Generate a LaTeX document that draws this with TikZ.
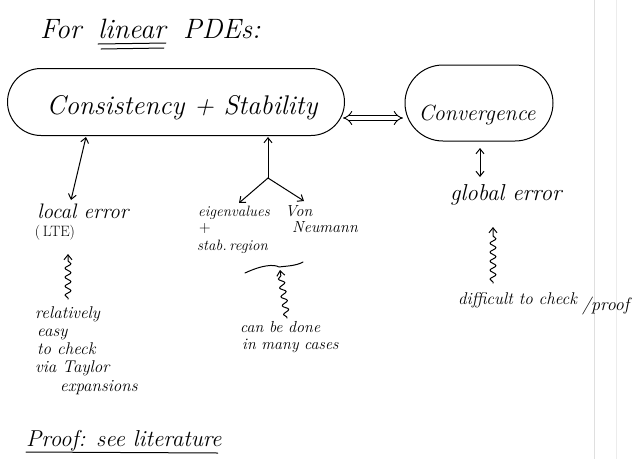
\documentclass[tikz,border=0pt]{standalone}
\usetikzlibrary{arrows.meta,decorations.pathmorphing,shapes.misc}
\begin{document}
\begin{tikzpicture}[x=1pt,y=-1pt,
  ink/.style={line width=1pt, black, line cap=round, line join=round},
  hand/.style={inner sep=0pt, text=black, font=\itshape\fontsize{#1}{#1}\selectfont},
  hand/.default=16,
  blob/.style={ink, draw, rounded rectangle, inner sep=0pt},
  tip/.style={ink, -{Straight Barb[length=5pt,width=8pt]}},
  twotip/.style={ink, {Straight Barb[length=5pt,width=8pt]}-{Straight Barb[length=5pt,width=8pt]}},
  wavy/.style={ink, -{Straight Barb[length=5pt,width=8pt]}, decorate,
    decoration={snake, amplitude=3pt, segment length=9pt, post length=5pt, pre length=1pt}}
]
\useasboundingbox (0,0) rectangle (633,459);
\fill[white] (0,0) rectangle (633,459);
% scan edges
\draw[gray!25, line width=1pt] (594,0) -- (594,459);
\draw[gray!15, line width=1pt] (616,0) -- (616,459);

% title
\node[hand=28, anchor=base west] (for) at (40,38) {For};
\node[hand=28, anchor=base west] (linear) at (98,38) {linear};
\node[hand=28, anchor=base west] (pdes) at (183,38) {PDEs:};
\draw[ink] ([yshift=-6pt]linear.base west) -- ([yshift=-5pt]linear.base east);
\draw[ink] ([xshift=3pt,yshift=-11pt]linear.base west) -- ([xshift=-2pt,yshift=-10pt]linear.base east);

% main blobs
\node[blob, minimum width=337pt, minimum height=67pt] (cs) at (176,102) {};
\node[hand=27] (cstext) at (182,108) {Consistency + Stability};
\node[blob, minimum width=148pt, minimum height=76pt] (conv) at (479,103) {};
\node[hand=22] (convtext) at (477,115) {Convergence};

% equivalence arrow
\coordinate (eqL) at (343,118);
\coordinate (eqR) at (403,118);
\draw[line width=0.9pt, double, double distance=4pt, {Implies}-{Implies}] (eqL) -- (eqR);

% left branch
\node[hand=21] (local) at (83,211) {local error};
\node[inner sep=0pt, font=\fontsize{15}{15}\selectfont] (lte) at (55,233) {(\,LTE)};
\coordinate (csA) at (86,137);
\coordinate (localA) at (71,200);
\draw[twotip] (csA) -- (localA);
\coordinate (w1s) at (68,299);
\coordinate (w1e) at (68,254);
\draw[wavy] (w1s) -- (w1e);
\node[hand=17, anchor=base west] (r1) at (35,318) {relatively};
\node[hand=17, anchor=base west] (r2) at (37,336) {easy};
\node[hand=17, anchor=base west] (r3) at (37,354) {to check};
\node[hand=17, anchor=base west] (r4) at (35,372) {via Taylor};
\node[hand=17, anchor=base west] (r5) at (60,391) {expansions};

% middle branch
\coordinate (csB) at (268,137);
\coordinate (br) at (268,178);
\coordinate (eigA) at (239,203);
\coordinate (vnA) at (304,201);
\draw[tip] (br) -- (csB);
\draw[tip] (br) -- (eigA);
\draw[tip] (br) -- (vnA);
\node[hand=15, anchor=base west] (eig) at (198,216) {eigenvalues};
\node[inner sep=0pt, font=\fontsize{16}{16}\selectfont] (plus) at (205,229) {+};
\node[hand=15, anchor=base west] (stab) at (197,250) {stab.\,region};
\node[hand=16, anchor=base west] (von) at (285,216) {Von};
\node[hand=16, anchor=base west] (neu) at (292,232) {Neumann};
\coordinate (brL) at (245,273);
\coordinate (brM) at (279,267);
\coordinate (brR) at (303,262);
\draw[ink] (brL) .. controls (262,265) and (274,264) .. (brM) .. controls (286,266) and (296,266) .. (brR);
\coordinate (w2s) at (287,318);
\coordinate (w2e) at (280,270);
\draw[wavy] (w2s) -- (w2e);
\node[hand=16, anchor=base west] (can1) at (240,332) {can be done};
\node[hand=16, anchor=base west] (can2) at (242,349) {in many cases};

% right branch
\coordinate (convA) at (480,148);
\coordinate (globA) at (480,177);
\draw[twotip] (convA) -- (globA);
\node[hand=23, anchor=base west] (glob) at (450,200) {global error};
\coordinate (w3s) at (493,283);
\coordinate (w3e) at (493,227);
\draw[wavy] (w3s) -- (w3e);
\node[hand=17, anchor=base west] (diff) at (458,304) {difficult to check};
\node[hand=18, anchor=base west] (proofr) at (582,310) {/proof};

% bottom
\node[hand=23, anchor=base west] (proof) at (26,446) {Proof: see literature};
\draw[ink] ([yshift=-6pt]proof.base west) -- ([xshift=-4pt,yshift=-7pt]proof.base east);
\end{tikzpicture}
\end{document}
